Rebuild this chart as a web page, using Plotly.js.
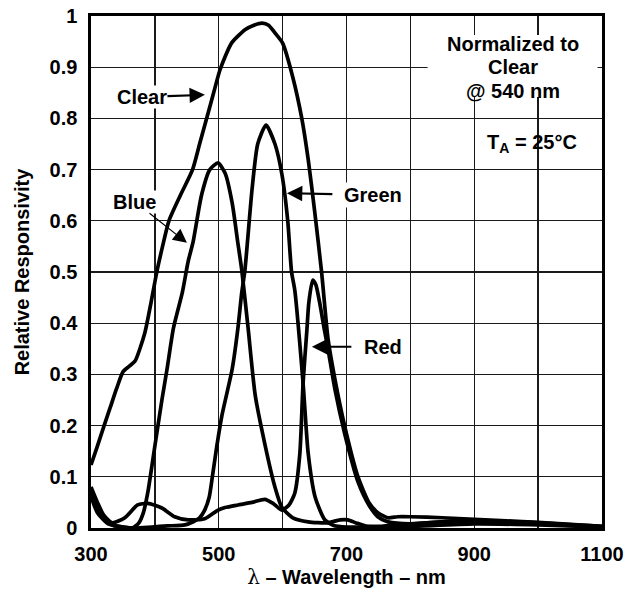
<!DOCTYPE html>
<html>
<head>
<meta charset="utf-8">
<script src="https://cdn.plot.ly/plotly-3.0.1.min.js"></script>
<style>html,body{margin:0;padding:0;background:#fff;}#chart{width:626px;height:593px;}</style>
</head>
<body>
<div id="chart"></div>
<script>
// ---- data ----
const clearWl  = [300,310,320,330,340,350,360,369,384,395,403,412,422,440,459,470,481,492,502,520,541,555,568,578,588,600,616,630,640,650,661,671,682,697,718,735,749,765,780,800,850,900,950,1000,1050,1100];
const clearVal = [0.123,0.16,0.198,0.235,0.272,0.305,0.316,0.326,0.38,0.447,0.50,0.55,0.60,0.65,0.70,0.75,0.80,0.85,0.895,0.947,0.973,0.982,0.986,0.982,0.967,0.947,0.88,0.80,0.72,0.62,0.50,0.37,0.29,0.20,0.10,0.05,0.03,0.02,0.022,0.022,0.02,0.017,0.014,0.011,0.007,0.003];

const blueWl  = [300,310,320,335,350,365,375,382,389,400,411,419,429,443,452,460,473,486,499,510,521,530,536,546,557,572,588,599,616,640,670,690,702,715,730,760,800,900,1000,1100];
const blueVal = [0.07,0.04,0.02,0.005,0.002,0.0,0.01,0.03,0.07,0.16,0.25,0.31,0.39,0.46,0.52,0.56,0.65,0.70,0.713,0.693,0.635,0.556,0.504,0.39,0.26,0.165,0.08,0.04,0.02,0.012,0.01,0.016,0.016,0.01,0.004,0.002,0.003,0.008,0.006,0.002];

const greenWl  = [300,310,327,350,369,395,420,447,460,470,478,485,490,497,505,521,530,536,541,552,561,574,588,599,608,614,619,632,640,651,666,680,700,750,800,850,900,1000,1100];
const greenVal = [0.062,0.03,0.008,0.002,0.0,0.002,0.004,0.006,0.012,0.02,0.035,0.06,0.10,0.16,0.22,0.31,0.39,0.46,0.504,0.66,0.75,0.787,0.75,0.69,0.60,0.50,0.465,0.283,0.146,0.06,0.016,0.005,0.002,0.003,0.008,0.012,0.014,0.008,0.002];

const redWl  = [300,310,320,333,353,373,389,411,431,452,478,499,510,530,552,572,585,599,610,619,627,632,638,641,647,652,658,665,671,682,697,718,735,749,765,800,850,900,1000,1100];
const redVal = [0.08,0.05,0.025,0.01,0.02,0.045,0.048,0.039,0.022,0.016,0.018,0.035,0.04,0.045,0.05,0.056,0.048,0.035,0.045,0.068,0.146,0.283,0.387,0.44,0.484,0.475,0.44,0.39,0.35,0.27,0.185,0.09,0.045,0.022,0.012,0.008,0.012,0.014,0.01,0.003];

const xTickVals  = [300,500,700,900,1100];
const xTickText  = ['300','500','700','900','1100'];
const yTickVals  = [0,0.1,0.2,0.3,0.4,0.5,0.6,0.7,0.8,0.9,1];
const yTickText  = ['0','0.1','0.2','0.3','0.4','0.5','0.6','0.7','0.8','0.9','1'];

// ---- drawing ----
const FONT = 'Liberation Sans, Arial, Helvetica, sans-serif';
const lineStyle = {color:'#000', width:3.7, shape:'spline', smoothing:0.6};
function tr(x, y, name){ return {x:x, y:y, name:name, type:'scatter', mode:'lines', line:lineStyle, hoverinfo:'x+y+name'}; }

const data = [
  tr(clearWl, clearVal, 'Clear'),
  tr(blueWl, blueVal, 'Blue'),
  tr(greenWl, greenVal, 'Green'),
  tr(redWl, redVal, 'Red')
];

const lblFont = {family:FONT, size:20, color:'#000', weight:'bold'};
const tickFont = {family:FONT, size:20, color:'#000', weight:'bold'};

const layout = {
  width:626, height:593,
  margin:{l:91, r:24, t:16, b:65, pad:0},
  paper_bgcolor:'#fff', plot_bgcolor:'#fff',
  showlegend:false,
  font:{family:FONT, color:'#000'},
  xaxis:{
    range:[300,1100], tickmode:'array', tickvals:xTickVals, ticktext:xTickText,
    showgrid:true, gridcolor:'#1a1a1a', gridwidth:1.3,
    minor:{tick0:300, dtick:100, showgrid:true, gridcolor:'#1a1a1a', gridwidth:1.3, ticks:''},
    showline:true, mirror:true, linecolor:'#000', linewidth:2.6,
    ticks:'', zeroline:false, ticklabelstandoff:6,
    tickfont:tickFont,
    title:{text:'<span style="font-family:\'DejaVu Serif\';font-weight:normal">λ</span> – Wavelength – nm', standoff:0,
           font:{family:FONT, size:20, color:'#000', weight:'bold'}}
  },
  yaxis:{
    range:[0,1], tickmode:'array', tickvals:yTickVals, ticktext:yTickText,
    showgrid:true, gridcolor:'#1a1a1a', gridwidth:1.3,
    showline:true, mirror:true, linecolor:'#000', linewidth:2.6,
    ticks:'', zeroline:false, ticklabelstandoff:7,
    tickfont:tickFont,
    title:{text:'Relative Responsivity', standoff:15,
           font:{family:FONT, size:20, color:'#000', weight:'bold'}}
  },
  shapes:[
    // white panel behind the normalization note
    {type:'rect', xref:'x', yref:'y', x0:827, x1:1093, y0:0.842, y1:0.963, fillcolor:'#fff', line:{width:0}, layer:'above'}
  ],
  annotations:[
    {xref:'x', yref:'y', x:960, y:0.946, text:'Normalized to', showarrow:false, font:lblFont},
    {xref:'x', yref:'y', x:960, y:0.900, text:'Clear', showarrow:false, font:lblFont},
    {xref:'x', yref:'y', x:960, y:0.853, text:'@ 540 nm', showarrow:false, font:lblFont},
    {xref:'x', yref:'y', x:990, y:0.751, text:'T<sub>A</sub> = 25°C', showarrow:false, font:lblFont},
    // curve labels with arrows
    {xref:'x', yref:'y', x:478.4, y:0.846, ax:-63, ay:2, text:'Clear', showarrow:true,
     arrowhead:2, arrowsize:1.4, arrowwidth:2.2, arrowcolor:'#000', bgcolor:'#fff', borderpad:0, font:lblFont},
    {xref:'x', yref:'y', x:450.2, y:0.557, ax:-52, ay:-41, text:'Blue', showarrow:true,
     arrowhead:2, arrowsize:2.3, arrowwidth:1.2, arrowcolor:'#000', bgcolor:'#fff', borderpad:0, font:lblFont},
    {xref:'x', yref:'y', x:606.7, y:0.654, ax:86, ay:2, text:'Green', showarrow:true, startstandoff:10,
     arrowhead:2, arrowsize:1.4, arrowwidth:2.2, arrowcolor:'#000', bgcolor:'#fff', borderpad:1, font:lblFont},
    {xref:'x', yref:'y', x:645.8, y:0.354, ax:71, ay:0, text:'Red', showarrow:true, startstandoff:12,
     arrowhead:2, arrowsize:1.4, arrowwidth:2.2, arrowcolor:'#000', borderpad:0, font:lblFont}
  ]
};

Plotly.newPlot('chart', data, layout, {staticPlot:true, displayModeBar:false});
</script>
</body>
</html>
